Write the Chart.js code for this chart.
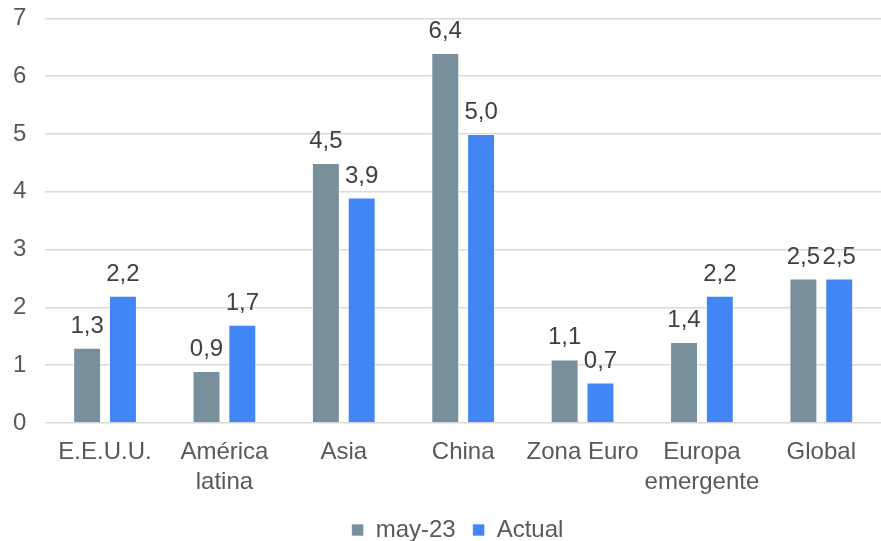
<!DOCTYPE html>
<html>
<head>
<meta charset="utf-8">
<script src="https://cdn.jsdelivr.net/npm/chart.js@4"></script>
<style>
html,body{margin:0;padding:0;background:#fff;overflow:hidden;}
#clip{width:881px;height:541px;position:relative;overflow:hidden;}
#wrap{width:881px;height:567px;position:absolute;left:0;top:-15px;}
</style>
</head>
<body>
<div id="clip"><div id="wrap"><canvas id="c"></canvas></div></div>
<script>
const categories = ["E.E.U.U.", ["América","latina"], "Asia", "China", "Zona Euro", ["Europa","emergente"], "Global"];
const seriesNames = ["may-23", "Actual"];
const may23 = [1.3, 0.9, 4.5, 6.4, 1.1, 1.4, 2.5];
const actual = [2.2, 1.7, 3.9, 5.0, 0.7, 2.2, 2.5];
const yTicks = [0, 1, 2, 3, 4, 5, 6, 7];

const FONT = "'Liberation Sans', Arial, sans-serif";

const labelPlugin = {
  id: 'barLabels',
  afterLayout(chart) {
    if (chart.legend) { chart.legend.left += 20; chart.legend.right += 20; }
  },
  afterDatasetsDraw(chart) {
    const ctx = chart.ctx;
    ctx.save();
    ctx.font = "24px " + FONT;
    ctx.fillStyle = "#404040";
    ctx.textAlign = "center";
    ctx.textBaseline = "alphabetic";
    chart.data.datasets.forEach((ds, i) => {
      const meta = chart.getDatasetMeta(i);
      meta.data.forEach((bar, j) => {
        const txt = ds.data[j].toFixed(1).replace('.', ',');
        ctx.fillText(txt, bar.x, bar.y - 15);
      });
    });
    ctx.restore();
  }
};

new Chart(document.getElementById('c'), {
  type: 'bar',
  data: {
    labels: categories,
    datasets: [
      { label: seriesNames[0], data: may23, backgroundColor: '#78909C', borderColor: 'rgba(255,255,255,0.6)', borderWidth: 1, categoryPercentage: 0.6, barPercentage: 0.78 },
      { label: seriesNames[1], data: actual, backgroundColor: '#4285F4', borderColor: 'rgba(255,255,255,0.6)', borderWidth: 1, categoryPercentage: 0.6, barPercentage: 0.78 }
    ]
  },
  options: {
    responsive: true,
    maintainAspectRatio: false,
    animation: false,
    layout: { padding: { top: 0, left: -6, right: 0, bottom: 0 } },
    plugins: {
      legend: {
        position: 'bottom',
        labels: {
          font: { size: 24, family: FONT },
          color: '#595959',
          boxWidth: 12,
          boxHeight: 12,
          padding: 17
        }
      },
      tooltip: { enabled: false }
    },
    scales: {
      x: {
        grid: { display: false },
        border: { display: false },
        afterFit(axis) { axis.height -= 2; },
        ticks: {
          font: { size: 24, family: FONT, lineHeight: 1.25 },
          color: '#595959',
          padding: 6,
          maxRotation: 0,
          autoSkip: false
        }
      },
      y: {
        min: 0,
        max: 7,
        afterBuildTicks(axis) { axis.ticks = yTicks.map(v => ({ value: v })); },
        grid: { color: '#d9d9d9', lineWidth: 1.5, drawTicks: false },
        border: { display: false },
        ticks: {
          font: { size: 24, family: FONT },
          color: '#595959',
          padding: 19
        }
      }
    }
  },
  plugins: [labelPlugin]
});
</script>
</body>
</html>
